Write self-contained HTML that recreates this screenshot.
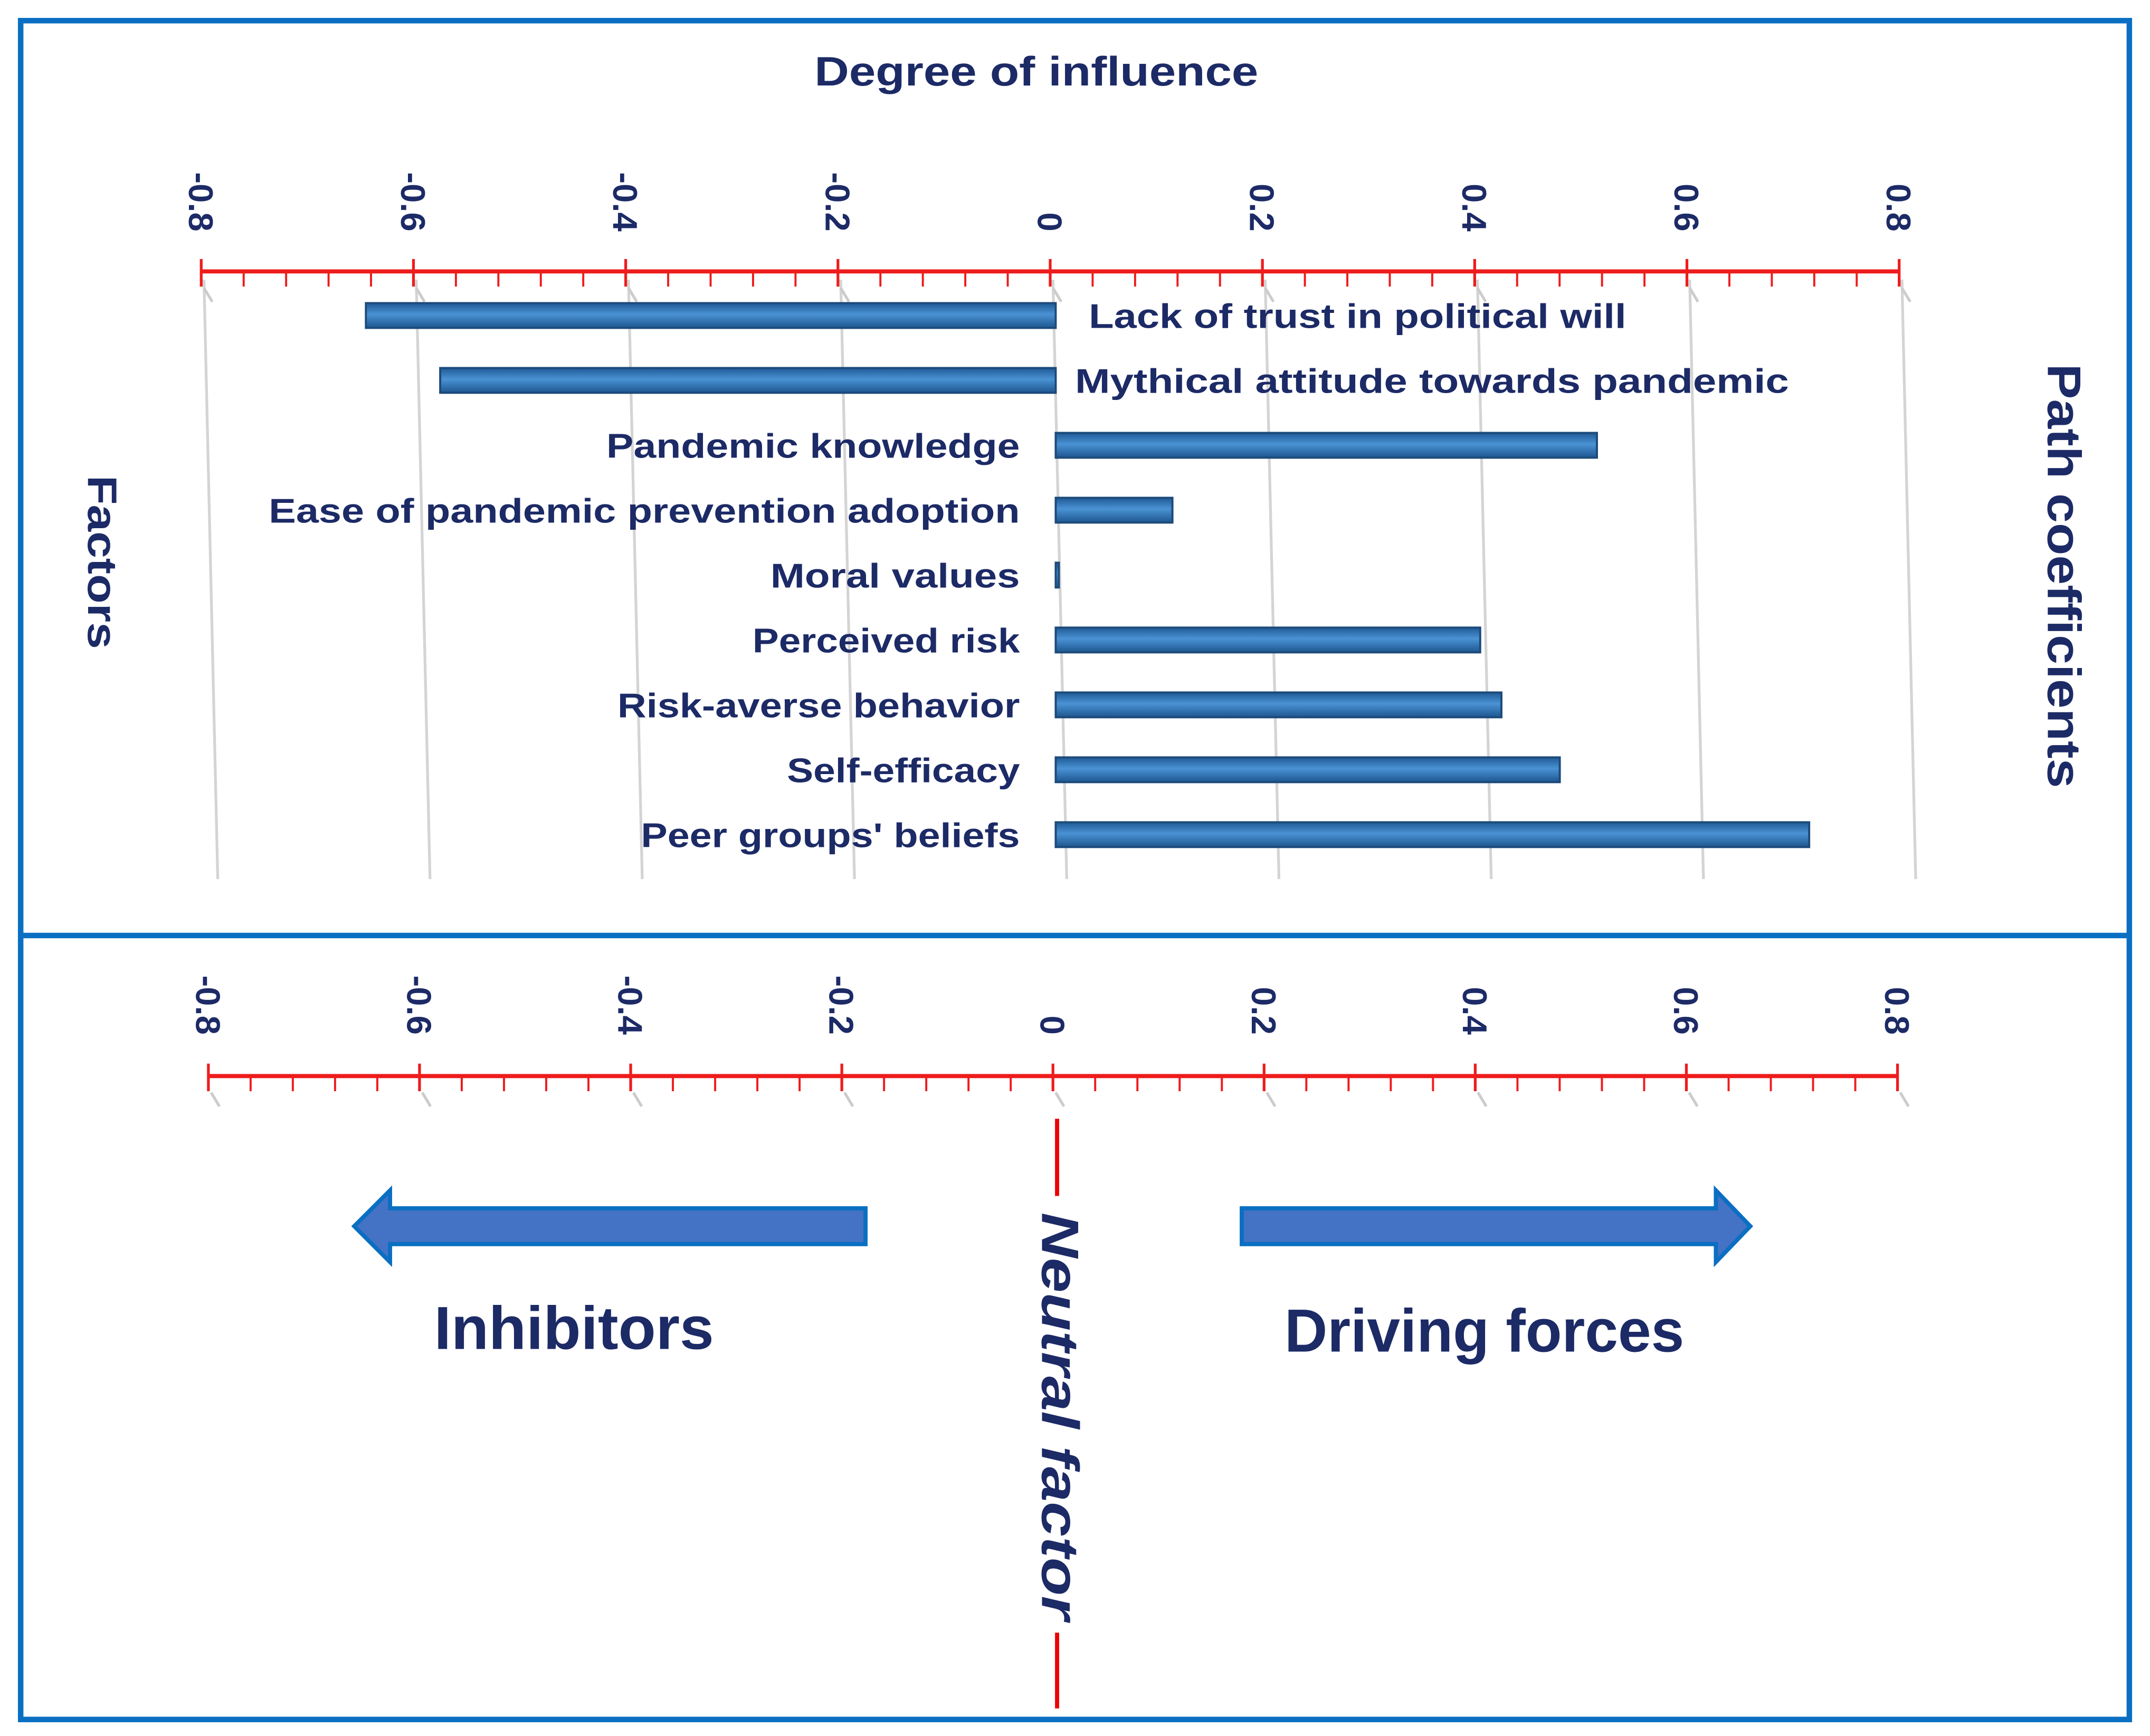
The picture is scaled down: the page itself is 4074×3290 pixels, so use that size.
<!DOCTYPE html>
<html><head><meta charset="utf-8"><style>
html,body{margin:0;padding:0;background:#fff}
svg{display:block}
text{font-family:"Liberation Sans",sans-serif;font-weight:bold;fill:#1c2a66}
</style></head><body>
<svg id="chart" width="4074" height="3290" viewBox="0 0 1560 1260" preserveAspectRatio="none" xmlns="http://www.w3.org/2000/svg">
<defs>
<linearGradient id="barGrad" x1="0" y1="0" x2="0" y2="1">
<stop offset="0" stop-color="#1f5a96"/><stop offset="0.45" stop-color="#4a92d4"/><stop offset="1" stop-color="#1d568f"/>
</linearGradient>
</defs>
<rect x="15" y="15" width="1530" height="1233" fill="none" stroke="#0a6fc2" stroke-width="4"/>
<line x1="15" y1="679" x2="1545" y2="679" stroke="#0a6fc2" stroke-width="4"/>
<text x="752" y="62" font-size="30" text-anchor="middle" textLength="322" lengthAdjust="spacingAndGlyphs">Degree of influence</text>
<text transform="translate(64,408) rotate(90)" font-size="30" text-anchor="middle" textLength="126" lengthAdjust="spacingAndGlyphs">Factors</text>
<text transform="translate(1486,418) rotate(90)" font-size="34" text-anchor="middle" textLength="308" lengthAdjust="spacingAndGlyphs">Path coefficients</text>
<g id="grid"></g><g id="axisTop"></g><g id="bars"></g><g id="axisBottom"></g>
<line x1="767" y1="812" x2="767" y2="868" stroke="#e00" stroke-width="3"/>
<line x1="767" y1="1185" x2="767" y2="1240" stroke="#e00" stroke-width="3"/>
<text transform="translate(756,1028) rotate(90)" font-size="38" font-style="italic" text-anchor="middle" textLength="296" lengthAdjust="spacingAndGlyphs">Neutral factor</text>
<polygon points="628,877 283,877 283,864 257,890 283,916 283,903 628,903" fill="#4472c4" stroke="#0a6fc2" stroke-width="3"/>
<polygon points="901,877 1245,877 1245,864 1270,890 1245,916 1245,903 901,903" fill="#4472c4" stroke="#0a6fc2" stroke-width="3"/>
<text x="315" y="979" font-size="44" textLength="203" lengthAdjust="spacingAndGlyphs">Inhibitors</text>
<text x="932" y="981" font-size="44" textLength="290" lengthAdjust="spacingAndGlyphs">Driving forces</text>
</svg>
<script>
const categories=["Lack of trust in political will","Mythical attitude towards pandemic","Pandemic knowledge","Ease of pandemic prevention adoption","Moral values","Perceived risk","Risk-averse behavior","Self-efficacy","Peer groups' beliefs"];
const values=[-0.65,-0.58,0.51,0.11,0.003,0.40,0.42,0.475,0.71];
const labelWidths=[390,518,300,545,181,194,292,169,275];
const tickValues=[-0.8,-0.6,-0.4,-0.2,0,0.2,0.4,0.6,0.8];
const tickLabels=["-0.8","-0.6","-0.4","-0.2","0","0.2","0.4","0.6","0.8"];
const NS="http://www.w3.org/2000/svg";
function mk(tag,attrs,parent){const e=document.createElementNS(NS,tag);for(const k in attrs)e.setAttribute(k,attrs[k]);parent.appendChild(e);return e;}
const xTop=v=>762+v*770;
const xBot=v=>764+v*766;
const yCat=i=>229+i*47.1;
const grid=document.getElementById('grid');
tickValues.forEach(v=>{
  const g=mk('line',{x1:xTop(v)+2,y1:203,x2:xTop(v)+12,y2:638,stroke:'#d4d4d4','stroke-width':2},grid);
  
  
});
function axis(gid,xf,y,labelEnd,nameP){
  const g=document.getElementById(gid);
  const ln=mk('line',{x1:xf(-0.8),y1:y,x2:xf(0.8),y2:y,stroke:'#ee1c1c','stroke-width':3},g);
  
  
  for(let k=0;k<=40;k++){
    const v=-0.8+k*0.04;const maj=k%5===0;
    const t=mk('line',{x1:xf(v),y1:maj?y-9:y,x2:xf(v),y2:y+11,stroke:'#ee1c1c','stroke-width':maj?2:1.5},g);
    
    
    if(maj){const s=mk('line',{x1:xf(v)+2,y1:y+12,x2:xf(v)+8,y2:y+22,stroke:'#ccc','stroke-width':2},g);
      
      }
  }
  tickValues.forEach((v,i)=>{
    const t=mk('text',{transform:`translate(${xf(v)-9},${labelEnd}) rotate(90)`,'font-size':25,'text-anchor':'end'},g);
    t.textContent=tickLabels[i];
    
    
  });
}
axis('axisTop',xTop,197,168,'top');
axis('axisBottom',xBot,781,751,'bottom');
const bars=document.getElementById('bars');
categories.forEach((c,i)=>{
  const v=values[i];const x0=xTop(0)+4;const x1=x0+v*770;
  const y=yCat(i);
  const r=mk('rect',{x:Math.min(x0,x1),y:y-9,width:Math.max(Math.abs(x1-x0),2),height:18,fill:'url(#barGrad)',stroke:'#1c4a7a','stroke-width':1.5},bars);
  
  
  const neg=v<0;
  const t=mk('text',{x:neg?(i===0?790:780):740,y:y+9,'font-size':25,'text-anchor':neg?'start':'end',textLength:labelWidths[i],lengthAdjust:'spacingAndGlyphs'},bars);
  t.textContent=c;
  
  
});
</script>
</body></html>
